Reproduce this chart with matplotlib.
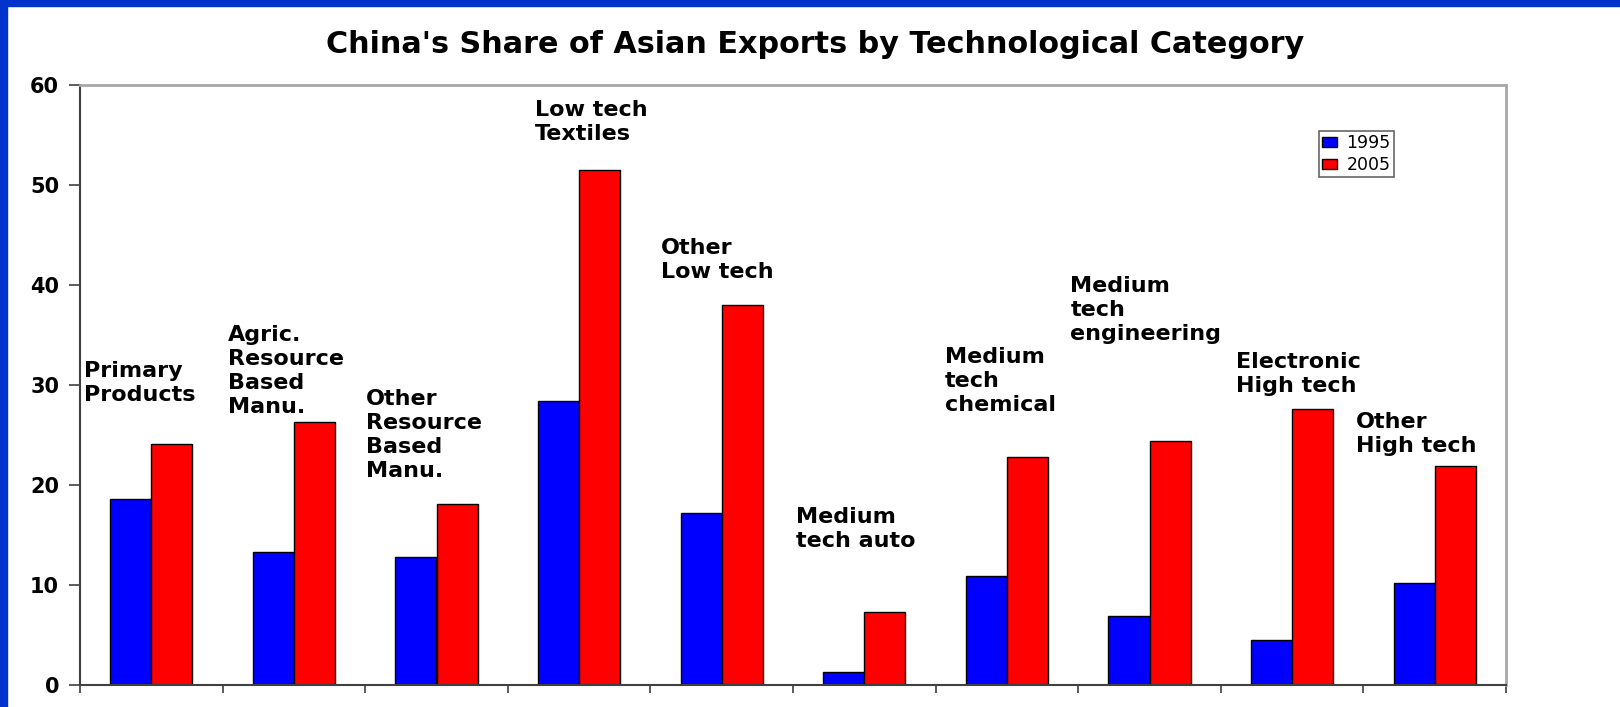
import numpy as np
import matplotlib
matplotlib.use('Agg')
import matplotlib.pyplot as plt
from matplotlib.patches import Rectangle

plt.rcParams['font.family'] = ['DejaVu Sans']

# export shares (%) by category
categories = ['Primary\nProducts', 'Agric.\nResource\nBased\nManu.', 'Other\nResource\nBased\nManu.',
              'Low tech\nTextiles', 'Other\nLow tech', 'Medium\ntech auto', 'Medium\ntech\nchemical',
              'Medium\ntech\nengineering', 'Electronic\nHigh tech', 'Other\nHigh tech']
share_1995 = [18.6, 13.3, 12.8, 28.4, 17.2, 1.3, 10.9, 6.9, 4.5, 10.2]
share_2005 = [24.1, 26.3, 18.1, 51.5, 38.0, 7.3, 22.8, 24.4, 27.6, 21.9]
years = ['1995', '2005']

# where each category caption sits (x in category units, y = top of text)
label_x = [-0.47, 0.535, 1.503, 2.688, 3.571, 4.518, 5.563, 6.446, 7.604, 8.445]
label_y = [32.4, 36.0, 29.6, 58.5, 44.7, 17.8, 33.8, 40.9, 33.3, 27.3]

fig = plt.figure(figsize=(16.2, 7.07), dpi=100)
fig.patch.set_facecolor('white')
# blue frame strips on the left and top edges
fig.patches.append(Rectangle((0, 0), 7 / 1620, 1, transform=fig.transFigure, color='#0033cc', zorder=0))
fig.patches.append(Rectangle((0, 1 - 6 / 707), 1, 6 / 707, transform=fig.transFigure, color='#0033cc', zorder=0))

ax = fig.add_axes([80 / 1620, 1 - 685 / 707, 1426 / 1620, 600 / 707])
x = np.arange(len(categories))
w = 0.288
ax.bar(x - w / 2, share_1995, w, color='#0000ff', edgecolor='black', linewidth=1.0, label=years[0])
ax.bar(x + w / 2, share_2005, w, color='#ff0000', edgecolor='black', linewidth=1.0, label=years[1])

for i, txt in enumerate(categories):
    ax.text(label_x[i], label_y[i], txt, ha='left', va='top', fontsize=16, fontweight='bold',
            linespacing=1.25)

ax.set_xlim(-0.5, len(categories) - 0.5)
ax.set_ylim(0, 60)
ax.set_yticks(np.arange(0, 61, 10))
ax.set_xticks(np.arange(len(categories) + 1) - 0.5)
ax.set_xticklabels([])
ax.tick_params(axis='y', direction='out', length=8, width=1.2, color='#404040', labelsize=15, pad=7)
ax.tick_params(axis='x', direction='out', length=6, width=1.2, color='#404040')
for lab in ax.get_yticklabels():
    lab.set_fontweight('bold')
for side in ['left', 'bottom']:
    ax.spines[side].set_color('#404040')
    ax.spines[side].set_linewidth(1.5)
for side in ['top', 'right']:
    ax.spines[side].set_color('#a8a8a8')
    ax.spines[side].set_linewidth(2)

leg = ax.legend(loc='upper left', bbox_to_anchor=(1319 / 1620, 1 - 131 / 707), bbox_transform=fig.transFigure,
                fontsize=12.5, frameon=True, fancybox=False, handlelength=0.85, handleheight=0.5,
                handletextpad=0.55, borderpad=0.18, labelspacing=0.22, borderaxespad=0)
leg.get_frame().set_edgecolor('#404040')
leg.get_frame().set_linewidth(1.2)

fig.text(0.503, 1 - 30 / 707, "China's Share of Asian Exports by Technological Category", ha='center', va='top',
         fontsize=21.8, fontweight='bold')

fig.savefig('out.png', dpi=100)
